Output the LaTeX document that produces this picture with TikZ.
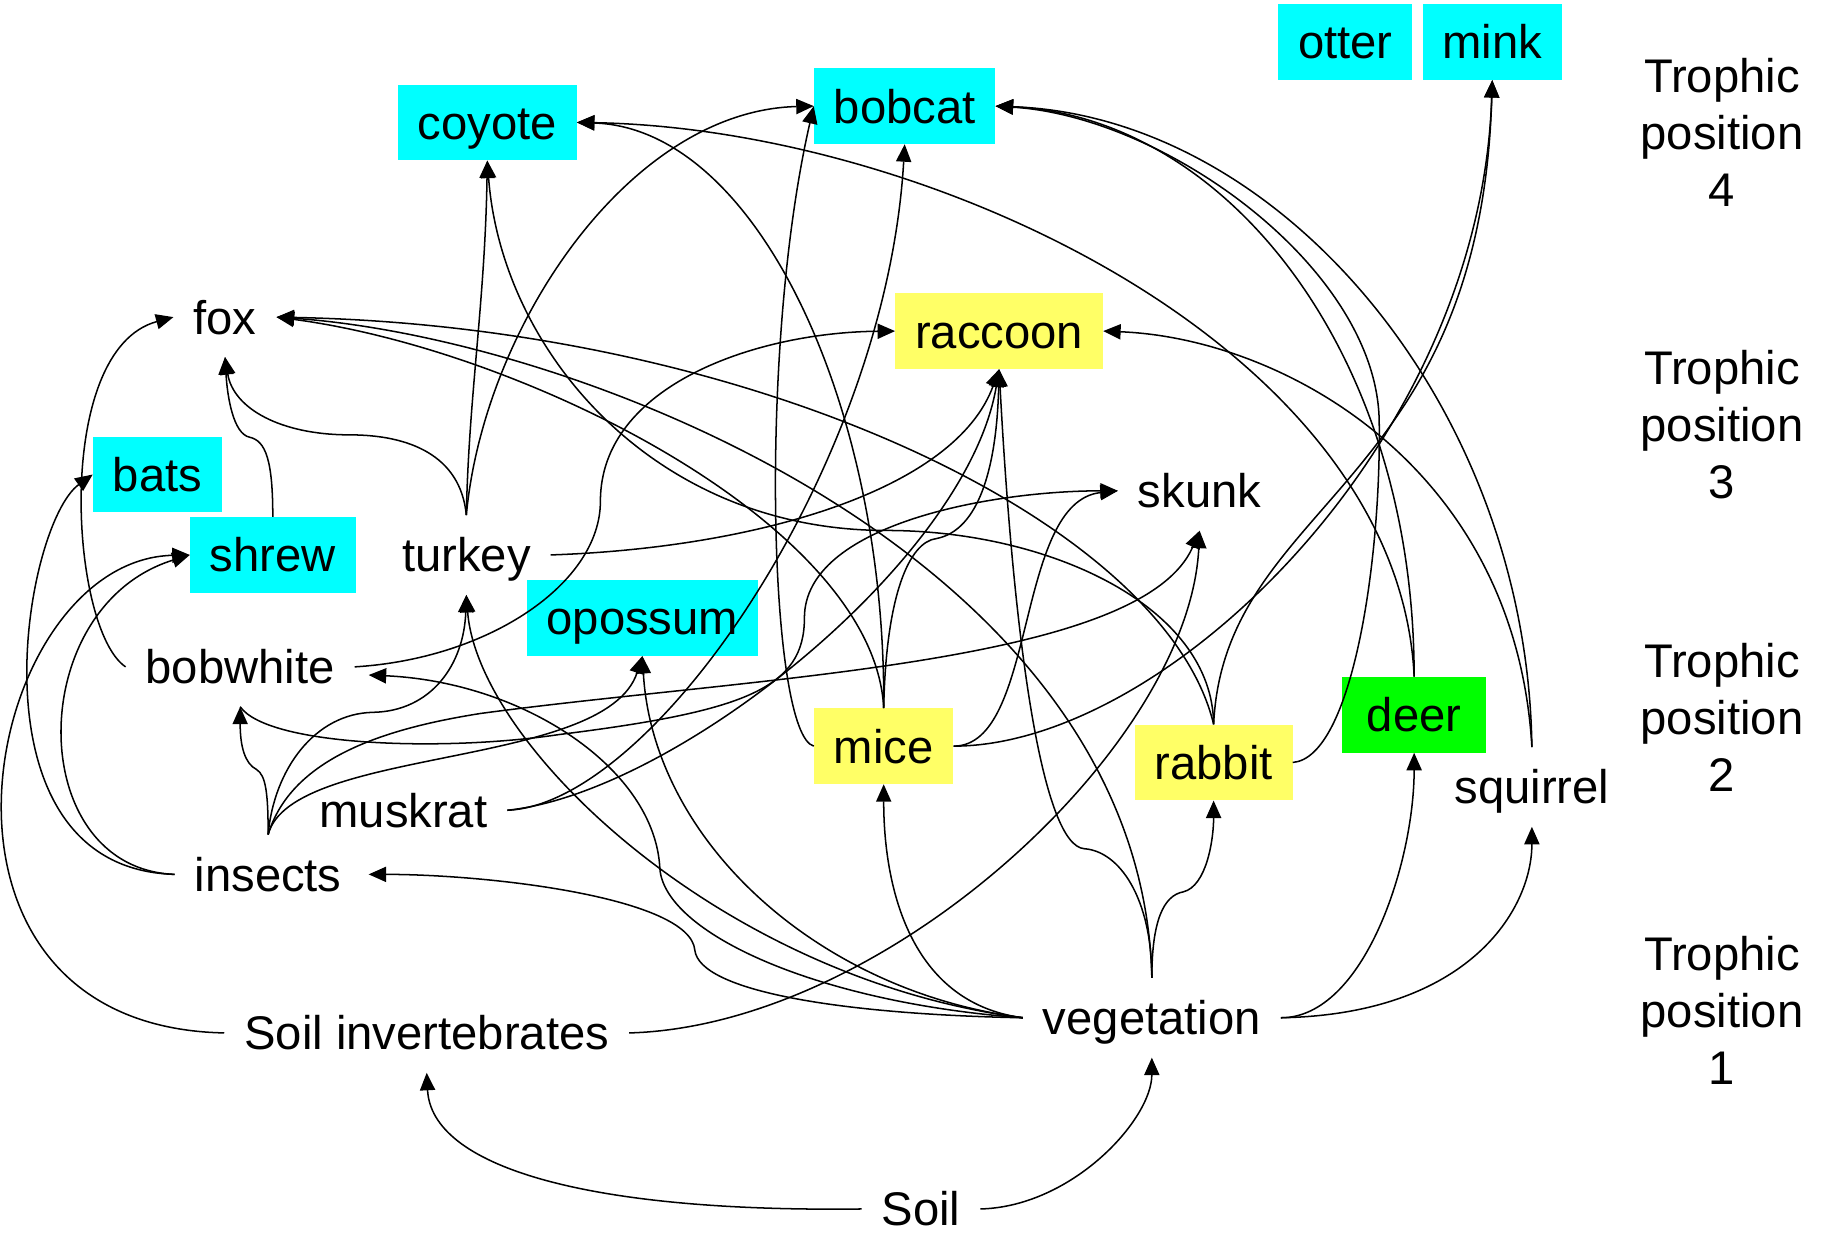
\documentclass[tikz,border=0pt]{standalone}
\usepackage{fontspec}
\setmainfont{Liberation Sans}
\usetikzlibrary{arrows.meta}
\definecolor{cyanF}{HTML}{00FFFF}
\definecolor{yellowF}{HTML}{FFFF66}
\definecolor{greenF}{HTML}{00FF00}
\begin{document}
\begin{tikzpicture}[x=1pt,y=-1pt,
  lbl/.style={font=\fontsize{40.5pt}{49pt}\selectfont, text height=29.2pt, text depth=0pt,
              inner xsep=17pt, inner ysep=0pt, minimum height=68pt},
  box/.style={lbl, minimum height=65pt},
  cy/.style={box, fill=cyanF},
  ye/.style={box, fill=yellowF},
  gr/.style={box, fill=greenF},
  trophic/.style={font=\fontsize{40.5pt}{49pt}\selectfont, align=center, inner sep=0pt},
  edge/.style={line width=1.3pt, -{Triangle[length=15pt,width=13pt]}}]
\fill[white] (0,0) rectangle (1568,1058);
\useasboundingbox (0,0) rectangle (1568,1058);

% nodes
\node[cy] (otter) at (1154,36) {otter};
\node[cy] (mink) at (1280,36) {mink};
\node[cy] (coyote) at (418,105) {coyote};
\node[cy] (bobcat) at (776,91) {bobcat};
\node[ye] (raccoon) at (857,284) {raccoon};
\node[lbl] (fox) at (193,272) {fox};
\node[cy] (bats) at (135,407) {bats};
\node[cy] (shrew) at (234,476) {shrew};
\node[lbl] (turkey) at (400,476) {turkey};
\node[lbl] (skunk) at (1029,421) {skunk};
\node[cy] (opossum) at (551,530) {opossum};
\node[lbl] (bobwhite) at (206,572) {bobwhite};
\node[ye] (mice) at (758,640) {mice};
\node[ye] (rabbit) at (1041,654) {rabbit};
\node[gr, minimum width=124pt] (deer) at (1213,613) {deer};
\node[lbl] (squirrel) at (1314,675) {squirrel};
\node[lbl] (muskrat) at (346,695) {muskrat};
\node[lbl] (insects) at (230,750) {insects};
\node[lbl] (soilinv) at (366,886) {Soil invertebrates};
\node[lbl] (veg) at (988,873) {vegetation};
\node[lbl, minimum height=0pt] (soil) at (790,1037) {Soil};

\node[trophic] (t4) at (1477,113.5) {Trophic\\position\\4};
\node[trophic] (t3) at (1477,364.5) {Trophic\\position\\3};
\node[trophic] (t2) at (1477,615.5) {Trophic\\position\\2};
\node[trophic] (t1) at (1477,866.5) {Trophic\\position\\1};

% soil
\draw[edge] (soil.west) .. controls (500,1040) and (370,1000) .. (soilinv.south);
\draw[edge] (soil.east) .. controls (920,1035) and (988,960) .. (veg.south);

% vegetation
\draw[edge] (veg.east) .. controls (1170,873) and (1213,740) .. (deer.south);
\draw[edge] (veg.east) .. controls (1260,870) and (1314,780) .. (squirrel.south);
\draw[edge] (veg.north) .. controls (988,790) and (998,768) .. (1015,765) .. controls (1035,760) and (1041,720) .. (rabbit.south);
\draw[edge] (veg.north) .. controls (988,770) and (960,730) .. (930,728) .. controls (895,725) and (870,560) .. (raccoon.south);
\draw[edge] (veg.north) .. controls (980,480) and (500,290) .. (fox.east);
\draw[edge] (veg.west) .. controls (720,870) and (600,850) .. (596,815) .. controls (592,770) and (420,750) .. ([xshift=6pt]insects.east);
\draw[edge] (veg.west) .. controls (700,850) and (560,720) .. (opossum.south);
\draw[edge] (veg.west) .. controls (780,860) and (758,760) .. (mice.south);
\draw[edge] (veg.west) .. controls (700,860) and (570,800) .. (566,745) .. controls (562,660) and (450,585) .. ([shift={(12,7)}]bobwhite.east);
\draw[edge] (veg.west) .. controls (620,840) and (410,640) .. (turkey.south);

% soil invertebrates
\draw[edge] (soilinv.east) .. controls (760,880) and (1020,640) .. (skunk.south);
\draw[edge] (soilinv.west) .. controls (-95,880) and (-15,480) .. (shrew.west);

% insects
\draw[edge] (insects.west) .. controls (20,745) and (20,520) .. (shrew.west);
\draw[edge] (insects.west) .. controls (-30,745) and (20,450) .. (bats.west);
\draw[edge] (insects.north) .. controls (230,680) and (228,665) .. (220,660) .. controls (210,655) and (206,640) .. (bobwhite.south);
\draw[edge] (insects.north) .. controls (235,660) and (270,612) .. (320,611) .. controls (370,610) and (398,570) .. (turkey.south);
\draw[edge] (insects.north) .. controls (250,640) and (520,660) .. (opossum.south);
\draw[edge] (insects.north) .. controls (250,650) and (330,625) .. (412,612) .. controls (650,580) and (980,570) .. (skunk.south);

% bobwhite, shrew, turkey
\draw[edge] (bobwhite.west) .. controls (60,540) and (45,300) .. (fox.west);
\draw[edge] (bobwhite.east) .. controls (420,565) and (515,500) .. (515,430) .. controls (515,330) and (650,285) .. (raccoon.west);
\draw[edge] (bobwhite.south) .. controls (230,640) and (380,645) .. (480,630) .. controls (640,610) and (690,590) .. (690,530) .. controls (690,450) and (850,421) .. (skunk.west);
\draw[edge] (shrew.north) .. controls (234,395) and (228,378) .. (214,375) .. controls (200,372) and (195,340) .. (fox.south);
\draw[edge] (turkey.north) .. controls (395,390) and (350,373) .. (300,373) .. controls (240,373) and (200,350) .. (fox.south);
\draw[edge] (turkey.north) .. controls (402,340) and (416,260) .. (coyote.south);
\draw[edge] (turkey.north) .. controls (415,280) and (540,95) .. (bobcat.west);
\draw[edge] (turkey.east) .. controls (650,470) and (820,420) .. (raccoon.south);

% muskrat
\draw[edge] (muskrat.east) .. controls (560,690) and (760,400) .. (bobcat.south);
\draw[edge] (muskrat.east) .. controls (580,680) and (830,480) .. (raccoon.south);

% mice
\draw[edge] (mice.west) .. controls (660,630) and (650,300) .. (bobcat.west);
\draw[edge] (mice.north) .. controls (760,510) and (780,465) .. (803,462) .. controls (840,455) and (855,400) .. (raccoon.south);
\draw[edge] (mice.north) .. controls (760,350) and (650,110) .. (coyote.east);
\draw[edge] (mice.north) .. controls (750,450) and (450,300) .. (fox.east);
\draw[edge] (mice.east) .. controls (1000,640) and (1270,380) .. (mink.south);
\draw[edge] (mice.east) .. controls (890,640) and (870,430) .. (skunk.west);

% rabbit
\draw[edge] (rabbit.north) .. controls (1000,450) and (650,280) .. (fox.east);
\draw[edge] (rabbit.north) .. controls (1040,520) and (900,455) .. (760,455) .. controls (560,455) and (430,300) .. (coyote.south);
\draw[edge] (rabbit.north) .. controls (1050,430) and (1270,420) .. (mink.south);
\draw[edge] (rabbit.east) .. controls (1160,650) and (1185,480) .. (1183,360) .. controls (1180,230) and (1000,100) .. (bobcat.east);

% deer, squirrel
\draw[edge] (deer.north) .. controls (1213,300) and (1050,100) .. (bobcat.east);
\draw[edge] (deer.north) .. controls (1200,300) and (800,110) .. (coyote.east);
\draw[edge] (squirrel.north) .. controls (1310,350) and (1100,100) .. (bobcat.east);
\draw[edge] (squirrel.north) .. controls (1300,400) and (1100,290) .. (raccoon.east);
\end{tikzpicture}
\end{document}
